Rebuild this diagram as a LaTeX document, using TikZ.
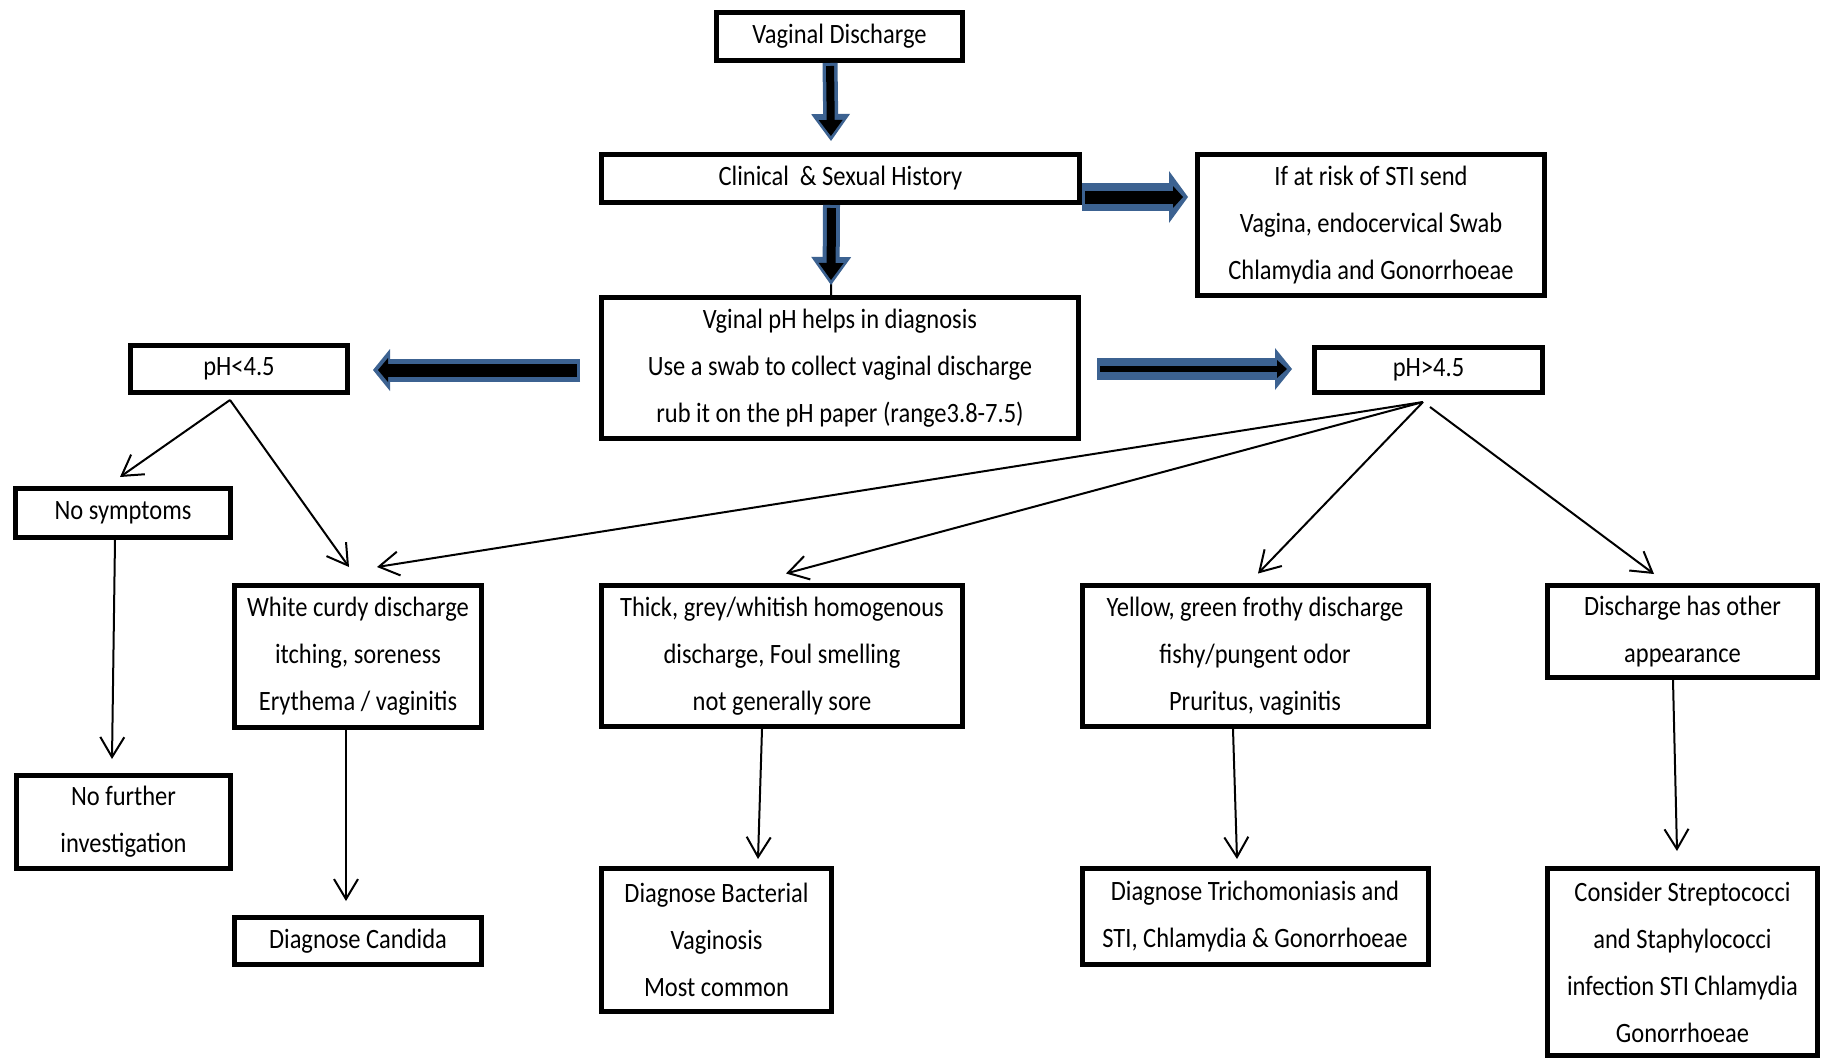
\documentclass[tikz,border=0pt]{standalone}
\usepackage{fontspec}
\setmainfont{Carlito}[FakeStretch=0.875]
\usetikzlibrary{arrows.meta}
\definecolor{arrowblue}{RGB}{60,98,145}

\begin{document}
\begin{tikzpicture}[x=0.5pt, y=-0.5pt,
  box/.style={draw, line width=2.5pt, align=center, inner sep=0pt,
    font=\fontsize{14}{23.5}\selectfont},
  arr/.style={line width=1pt, -{Straight Barb[length=10pt, width=12pt]}},
  fat/.style n args={6}{draw=arrowblue, line width=#1,
    -{Triangle[width=#2, length=#3, line width=0pt]},
    postaction={draw=black, line width=#4, shorten >=2.5pt, shorten <=1.5pt,
      -{Triangle[width=#5, length=#6, line width=0pt]}}}]

  \useasboundingbox (0,0) rectangle (1826,1061);

  % top part
  \node[box, minimum width=123pt, minimum height=24pt] (vd) at (839.5,36.5) {Vaginal Discharge};
  \node[box, minimum width=239pt, minimum height=24pt] (clin) at (840.5,178.5) {Clinical\ \ \& Sexual History};
  \node[box, minimum width=173.5pt, minimum height=70.5pt] (sti) at (1371,225) {If at risk of STI send\\ Vagina, endocervical Swab\\ Chlamydia and Gonorrhoeae};
  \node[box, minimum width=238.5pt, minimum height=70.5pt] (ph) at (840,368) {Vginal pH helps in diagnosis\\ Use a swab to collect vaginal discharge\\ rub it on the pH paper (range3.8-7.5)};
  \node[box, minimum width=108.5pt, minimum height=23.5pt] (phlt) at (239,369) {pH<4.5};
  \node[box, minimum width=114pt, minimum height=22.5pt] (phgt) at (1428.5,370) {pH>4.5};

  % findings
  \node[box, minimum width=107.5pt, minimum height=24.5pt] (nosym) at (123,513) {No symptoms};
  \node[box, minimum width=123.5pt, minimum height=71pt] (curdy) at (358,656) {White curdy discharge\\ itching, soreness\\ Erythema / vaginitis};
  \node[box, minimum width=180.5pt, minimum height=70.5pt] (thick) at (782,656) {Thick, grey/whitish homogenous\\ discharge, Foul smelling\\ not generally sore};
  \node[box, minimum width=173pt, minimum height=70.5pt] (yellow) at (1255,656) {Yellow, green frothy discharge\\ fishy/pungent odor\\ Pruritus, vaginitis};
  \node[box, minimum width=135pt, minimum height=46pt] (other) at (1682.5,631.5) {Discharge has other\\ appearance};

  % diagnoses
  \node[box, minimum width=107pt, minimum height=46.5pt] (nofur) at (123.5,822) {No further\\ investigation};
  \node[box, minimum width=123.5pt, minimum height=23.5pt] (cand) at (358,941) {Diagnose Candida};
  \node[box, minimum width=115pt, minimum height=71.5pt] (bv) at (716.5,940) {Diagnose Bacterial\\ Vaginosis\\ Most common};
  \node[box, minimum width=173pt, minimum height=48pt] (tricho) at (1255,916.5) {Diagnose Trichomoniasis and\\ STI, Chlamydia \& Gonorrhoeae};
  \node[box, minimum width=135pt, minimum height=93.5pt] (strep) at (1682.5,962) {Consider Streptococci\\ and Staphylococci\\ infection STI Chlamydia\\ Gonorrhoeae};

  % block arrows
  \draw[fat={7.5pt}{19.5pt}{13.5pt}{4pt}{12pt}{8pt}] ([xshift=-4.75pt]vd.south) -- ([xshift=-4.75pt,yshift=5.5pt]clin.north);
  \draw[line width=1pt] ([xshift=-4.5pt]clin.south) -- ([xshift=-4.5pt]ph.north);
  \draw[fat={8.5pt}{20pt}{14pt}{4.5pt}{12.5pt}{8.5pt}] ([xshift=-4.5pt]clin.south) -- ([xshift=-4.5pt,yshift=5pt]ph.north);
  \draw[fat={14pt}{26pt}{9.5pt}{6.5pt}{11pt}{5pt}] ([yshift=-9.25pt]clin.east) -- ([xshift=-3.5pt,yshift=14pt]sti.west);
  \draw[fat={11.5pt}{21pt}{8.5pt}{6.5pt}{12pt}{5pt}] ([xshift=-9.5pt,yshift=-1pt]ph.west) -- ([xshift=11.5pt,yshift=-0.5pt]phlt.east);
  \draw[fat={11pt}{21pt}{8.5pt}{3pt}{9pt}{5pt}] ([xshift=8pt,yshift=-0.5pt]ph.east) -- ([xshift=-10pt,yshift=0.5pt]phgt.west);

  % pH<4.5 branch
  \draw[arr] ([xshift=-4.5pt,yshift=-2.5pt]phlt.south) -- ([xshift=-1.5pt,yshift=4.5pt]nosym.north);
  \draw[arr] ([xshift=-4.5pt,yshift=-2.5pt]phlt.south) -- ([xshift=-4.5pt,yshift=7.75pt]curdy.north);

  % pH>4.5 branch
  \draw[arr] ([xshift=-2.75pt,yshift=-3.5pt]phgt.south) -- ([xshift=9.5pt,yshift=7.75pt]curdy.north);
  \draw[arr] ([xshift=-2.75pt,yshift=-3.5pt]phgt.south) -- ([xshift=2pt,yshift=4.75pt]thick.north);
  \draw[arr] ([xshift=-2.75pt,yshift=-3.5pt]phgt.south) -- ([xshift=1.5pt,yshift=4.75pt]yellow.north);
  \draw[arr] ([xshift=0.75pt,yshift=-6pt]phgt.south) -- ([xshift=-14.25pt,yshift=4.5pt]other.north);

  % down to diagnoses
  \draw[arr] ([xshift=-4pt]nosym.south) -- ([xshift=-5.75pt,yshift=7pt]nofur.north);
  \draw[arr] ([xshift=-6pt]curdy.south) -- ([xshift=-6pt,yshift=7pt]cand.north);
  \draw[arr] ([xshift=-10pt]thick.south) -- ([xshift=20.75pt,yshift=3.5pt]bv.north);
  \draw[arr] ([xshift=-11pt]yellow.south) -- ([xshift=-9pt,yshift=3.5pt]tricho.north);
  \draw[arr] ([xshift=-4.75pt]other.south) -- ([xshift=-2.75pt,yshift=7.5pt]strep.north);

\end{tikzpicture}
\end{document}
